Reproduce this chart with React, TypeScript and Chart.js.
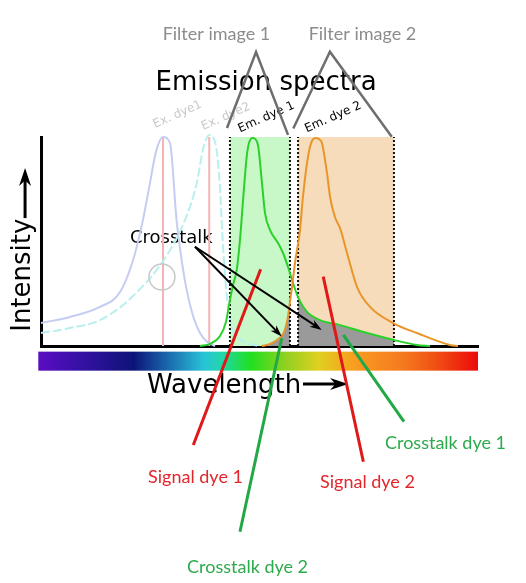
import React, { useEffect, useRef } from "react";
import { Chart, registerables } from "chart.js";

Chart.register(...registerables);

type P = { x: number; y: number };

// x: wavelength (nm), y: relative intensity (0..1)
const exDye1: P[] = [
  { x: 380, y: 0.11 }, { x: 402.6, y: 0.139 }, { x: 425.9, y: 0.187 }, { x: 441.5, y: 0.258 },
  { x: 451.6, y: 0.41 }, { x: 459.2, y: 0.6 }, { x: 464.2, y: 0.76 }, { x: 469.5, y: 0.93 },
  { x: 474.9, y: 1.0 }, { x: 480.4, y: 0.97 }, { x: 485.5, y: 0.6 }, { x: 489.7, y: 0.4 },
  { x: 493.6, y: 0.26 }, { x: 498.5, y: 0.14 }, { x: 503.7, y: 0.062 }, { x: 509.2, y: 0.02 },
  { x: 515.4, y: 0 },
];

const exDye2: P[] = [
  { x: 380, y: 0.062 }, { x: 402.6, y: 0.086 }, { x: 425.9, y: 0.124 }, { x: 451.6, y: 0.239 },
  { x: 478.0, y: 0.435 }, { x: 493.6, y: 0.627 }, { x: 501.4, y: 0.785 }, { x: 506.0, y: 0.94 },
  { x: 510.9, y: 1.01 }, { x: 516.2, y: 0.955 }, { x: 519.3, y: 0.75 }, { x: 521.8, y: 0.46 },
  { x: 526.0, y: 0.16 }, { x: 532.5, y: 0.05 }, { x: 542.6, y: 0.01 }, { x: 550.4, y: 0 },
];

const emDye1: P[] = [
  { x: 503.7, y: 0 }, { x: 511.5, y: 0.01 }, { x: 519.3, y: 0.048 }, { x: 523.9, y: 0.115 },
  { x: 527.0, y: 0.22 }, { x: 529.4, y: 0.292 }, { x: 532.3, y: 0.364 }, { x: 534.8, y: 0.507 },
  { x: 537.4, y: 0.713 }, { x: 540.0, y: 0.904 }, { x: 541.8, y: 0.971 }, { x: 544.7, y: 0.995 },
  { x: 547.3, y: 0.986 }, { x: 549.1, y: 0.952 }, { x: 551.7, y: 0.794 }, { x: 554.3, y: 0.636 },
  { x: 558.2, y: 0.555 }, { x: 564.4, y: 0.493 }, { x: 568.3, y: 0.445 }, { x: 572.2, y: 0.378 },
  { x: 576.1, y: 0.301 }, { x: 580.0, y: 0.234 }, { x: 587.0, y: 0.163 }, { x: 597.1, y: 0.124 },
  { x: 612.6, y: 0.1 }, { x: 628.2, y: 0.072 }, { x: 654.6, y: 0.029 }, { x: 672.5, y: 0.005 },
  { x: 682.7, y: 0 },
];

const emDye2: P[] = [
  { x: 551.9, y: 0 }, { x: 558.2, y: 0.01 }, { x: 563.6, y: 0.029 }, { x: 568.3, y: 0.057 },
  { x: 570.6, y: 0.096 }, { x: 572.2, y: 0.144 }, { x: 573.7, y: 0.211 }, { x: 575.3, y: 0.282 },
  { x: 577.6, y: 0.397 }, { x: 581.5, y: 0.555 }, { x: 583.8, y: 0.713 }, { x: 587.7, y: 0.904 },
  { x: 590.8, y: 0.981 }, { x: 593.9, y: 0.995 }, { x: 597.1, y: 0.986 }, { x: 598.6, y: 0.971 },
  { x: 602.5, y: 0.828 }, { x: 604.9, y: 0.713 }, { x: 608.7, y: 0.617 }, { x: 612.6, y: 0.565 },
  { x: 618.1, y: 0.445 }, { x: 625.9, y: 0.282 }, { x: 636.0, y: 0.187 }, { x: 653.9, y: 0.11 },
  { x: 672.5, y: 0.062 }, { x: 698.2, y: 0.005 }, { x: 704.4, y: 0 },
];

// filter pass bands (nm) and height
const filter1 = [527.0, 573.7];
const filter2 = [580.0, 654.6];
const filterTop = 1.0;
const exPeaks = [474.9, 510.9];

const triangle1: P[] = [{ x: 524.7, y: 1.043 }, { x: 547.3, y: 1.407 }, { x: 572.2, y: 1.01 }];
const triangle2: P[] = [{ x: 576.3, y: 1.041 }, { x: 604.8, y: 1.408 }, { x: 652.9, y: 1.001 }];

const signal1Line: P[] = [{ x: 550.9, y: 0.367 }, { x: 498.5, y: -0.474 }];
const signal2Line: P[] = [{ x: 599.6, y: 0.332 }, { x: 630.8, y: -0.554 }];
const cross2Line: P[] = [{ x: 567.3, y: 0.037 }, { x: 534.8, y: -0.889 }];
const cross1Line: P[] = [{ x: 615.2, y: 0.053 }, { x: 662.4, y: -0.362 }];

const crosstalkFrom: P = { x: 499.8, y: 0.475 };
const crosstalkTo: P[] = [{ x: 567.3, y: 0.045 }, { x: 598.4, y: 0.077 }];

const spectrumRange = [377.9, 720];
const spectrumBand = [-0.027, -0.118];
const spectrumStops: [number, string][] = [
  [377.9, "#5a0cc2"], [405, "#3c10aa"], [452, "#0c1478"], [481, "#1a70b0"],
  [507, "#28c4d8"], [522, "#20d8a4"], [543, "#20e020"], [570, "#90d020"],
  [596, "#e0d020"], [622, "#f8a020"], [636, "#f89020"], [662, "#f57a1e"],
  [688, "#f04e14"], [720, "#ec0a0a"],
];

const circleAt: P = { x: 474.1, y: 0.33 };

type Label = { text: string; x: number; y: number; color: string; font: string; align: CanvasTextAlign; rot: number };
const labels: Label[] = [
  { text: "Filter image 1", x: 516.5, y: 1.464, color: "#8c8c8c", font: "18px Lato", align: "center", rot: 0 },
  { text: "Filter image 2", x: 630.1, y: 1.464, color: "#8c8c8c", font: "18px Lato", align: "center", rot: 0 },
  { text: "Emission spectra", x: 555.1, y: 1.227, color: "#000", font: "26px 'DejaVu Sans'", align: "center", rot: 0 },
  { text: "Ex. dye1", x: 468.7, y: 1.043, color: "#c8c8c8", font: "12px 'DejaVu Sans'", align: "left", rot: -24 },
  { text: "Ex. dye2", x: 506.3, y: 1.033, color: "#c8c8c8", font: "12px 'DejaVu Sans'", align: "left", rot: -24 },
  { text: "Em. dye 1", x: 534.8, y: 1.022, color: "#000", font: "12px 'DejaVu Sans'", align: "left", rot: -24 },
  { text: "Em. dye 2", x: 586.7, y: 1.022, color: "#000", font: "12px 'DejaVu Sans'", align: "left", rot: -24 },
  { text: "Crosstalk", x: 449.2, y: 0.494, color: "#000", font: "18px 'DejaVu Sans'", align: "left", rot: 0 },
  { text: "Wavelength", x: 462.5, y: -0.223, color: "#000", font: "26px 'DejaVu Sans'", align: "left", rot: 0 },
  { text: "Intensity", x: 371.1, y: 0.068, color: "#000", font: "26px 'DejaVu Sans'", align: "left", rot: -90 },
  { text: "Signal dye 1", x: 500.2, y: -0.657, color: "#e2262c", font: "18px Lato", align: "center", rot: 0 },
  { text: "Signal dye 2", x: 634.0, y: -0.679, color: "#e2262c", font: "18px Lato", align: "center", rot: 0 },
  { text: "Crosstalk dye 1", x: 694.7, y: -0.493, color: "#2daa4c", font: "18px Lato", align: "center", rot: 0 },
  { text: "Crosstalk dye 2", x: 540.7, y: -1.086, color: "#2daa4c", font: "18px Lato", align: "center", rot: 0 },
];

const wavelengthArrow: P[] = [{ x: 583.8, y: -0.182 }, { x: 618.9, y: -0.182 }];
const intensityArrow: P[] = [{ x: 367.6, y: 0.612 }, { x: 367.6, y: 0.852 }];

function drawArrow(ctx: CanvasRenderingContext2D, x1: number, y1: number, x2: number, y2: number, w: number, hl: number, hw: number) {
  const a = Math.atan2(y2 - y1, x2 - x1);
  const bx = x2 - Math.cos(a) * hl;
  const by = y2 - Math.sin(a) * hl;
  ctx.beginPath();
  ctx.moveTo(x1, y1);
  ctx.lineTo(x2 - Math.cos(a) * hl * 0.6, y2 - Math.sin(a) * hl * 0.6);
  ctx.lineWidth = w;
  ctx.stroke();
  ctx.beginPath();
  ctx.moveTo(x2, y2);
  ctx.lineTo(bx + Math.sin(a) * hw / 2, by - Math.cos(a) * hw / 2);
  ctx.lineTo(x2 - Math.cos(a) * hl * 0.7, y2 - Math.sin(a) * hl * 0.7);
  ctx.lineTo(bx - Math.sin(a) * hw / 2, by + Math.cos(a) * hw / 2);
  ctx.closePath();
  ctx.fill();
}

const annotations = {
  id: "annotations",
  beforeDatasetsDraw(chart: any) {
    const { ctx, scales } = chart;
    const px = (v: number) => scales.x.getPixelForValue(v);
    const py = (v: number) => scales.y.getPixelForValue(v);
    ctx.save();
    const x0 = px(spectrumRange[0]);
    const x1 = px(spectrumRange[1]);
    const g = ctx.createLinearGradient(x0, 0, x1, 0);
    for (const [nm, c] of spectrumStops) {
      g.addColorStop((nm - spectrumRange[0]) / (spectrumRange[1] - spectrumRange[0]), c);
    }
    ctx.fillStyle = g;
    const yTop = py(spectrumBand[0]);
    ctx.fillRect(x0, yTop, x1 - x0, py(spectrumBand[1]) - yTop);

    ctx.strokeStyle = "#000";
    ctx.fillStyle = "#000";
    drawArrow(ctx, px(wavelengthArrow[0].x), py(wavelengthArrow[0].y), px(wavelengthArrow[1].x), py(wavelengthArrow[1].y), 3, 18, 12);
    drawArrow(ctx, px(intensityArrow[0].x), py(intensityArrow[0].y), px(intensityArrow[1].x), py(intensityArrow[1].y), 3, 18, 12);

    for (const l of labels) {
      ctx.save();
      ctx.translate(px(l.x), py(l.y));
      ctx.rotate((l.rot * Math.PI) / 180);
      ctx.font = l.font;
      ctx.fillStyle = l.color;
      ctx.textAlign = l.align;
      ctx.textBaseline = "alphabetic";
      ctx.fillText(l.text, 0, 0);
      ctx.restore();
    }
    ctx.restore();
  },
  afterDatasetsDraw(chart: any) {
    const { ctx, scales } = chart;
    const px = (v: number) => scales.x.getPixelForValue(v);
    const py = (v: number) => scales.y.getPixelForValue(v);
    ctx.save();
    ctx.strokeStyle = "#c8c8c8";
    ctx.lineWidth = 1.5;
    ctx.beginPath();
    ctx.arc(px(circleAt.x), py(circleAt.y), 13, 0, Math.PI * 2);
    ctx.stroke();
    ctx.strokeStyle = "#000";
    ctx.fillStyle = "#000";
    for (const t of crosstalkTo) {
      drawArrow(ctx, px(crosstalkFrom.x), py(crosstalkFrom.y), px(t.x), py(t.y), 2, 12, 8);
    }
    ctx.restore();
  },
};

const curve = (data: P[], color: string, order: number, extra: any = {}) => ({
  data,
  borderColor: color,
  borderWidth: 2,
  pointRadius: 0,
  fill: false,
  cubicInterpolationMode: "monotone",
  clip: false,
  order,
  ...extra,
});

const segment = (data: P[], color: string, width: number, order: number, extra: any = {}) => ({
  data,
  borderColor: color,
  borderWidth: width,
  pointRadius: 0,
  fill: false,
  tension: 0,
  clip: false,
  order,
  ...extra,
});

const box = (band: number[], color: string) => ({
  data: [{ x: band[0], y: filterTop }, { x: band[1], y: filterTop }],
  borderWidth: 0,
  borderColor: "transparent",
  backgroundColor: color,
  pointRadius: 0,
  fill: "origin",
  order: 30,
});

export default function App() {
  const ref = useRef<HTMLCanvasElement>(null);
  useEffect(() => {
    if (!ref.current) return;
    const edges = [...filter1, ...filter2];
    const datasets: any[] = [
      box(filter1, "#c8f8c8"),
      box(filter2, "#f6dcba"),
      curve(emDye2.filter((p) => p.x <= filter1[1]), "transparent", 29, { fill: "origin", backgroundColor: "#9a9a9a", borderWidth: 0 }),
      curve(emDye1.filter((p) => p.x >= filter2[0] && p.x <= filter2[1]), "transparent", 29, { fill: "origin", backgroundColor: "#9a9a9a", borderWidth: 0 }),
      ...exPeaks.map((v) => segment([{ x: v, y: 0 }, { x: v, y: 1 }], "#f5b4b4", 2, 28)),
      curve(exDye1, "#c6ccf2", 27),
      curve(exDye2, "#b8f0ee", 26, { borderDash: [9, 3] }),
      ...edges.map((v) => segment([{ x: v, y: 0 }, { x: v, y: filterTop }], "#111", 2, 25, { borderDash: [2, 2] })),
      curve(emDye1, "#2bd12b", 24),
      curve(emDye2, "#e8962a", 23),
      segment(triangle1, "#6e6e6e", 2.5, 22),
      segment(triangle2, "#6e6e6e", 2.5, 22),
      segment(signal1Line, "#e01818", 3, 5),
      segment(signal2Line, "#e01818", 3, 5),
      segment(cross2Line, "#22a844", 3, 5),
      segment(cross1Line, "#22a844", 3, 5),
    ];
    const chart = new Chart(ref.current, {
      type: "line",
      data: { datasets },
      options: {
        animation: false,
        responsive: false,
        events: [],
        layout: { padding: { left: 41, top: 137, right: 48, bottom: 237 } },
        plugins: { legend: { display: false }, tooltip: { enabled: false } },
        scales: {
          x: {
            type: "linear", min: 380, max: 720,
            ticks: { display: false },
            grid: { display: false, drawTicks: false },
            border: { display: true, color: "#000", width: 3 },
          },
          y: {
            type: "linear", min: 0, max: 1,
            ticks: { display: false },
            grid: { display: false, drawTicks: false },
            border: { display: true, color: "#000", width: 3 },
          },
        },
      },
      plugins: [annotations],
    } as any);
    return () => chart.destroy();
  }, []);
  return (
    <div style={{ position: "absolute", left: 0, top: 0, width: 526, height: 583, background: "#fff" }}>
      <canvas ref={ref} width={526} height={583} />
    </div>
  );
}
